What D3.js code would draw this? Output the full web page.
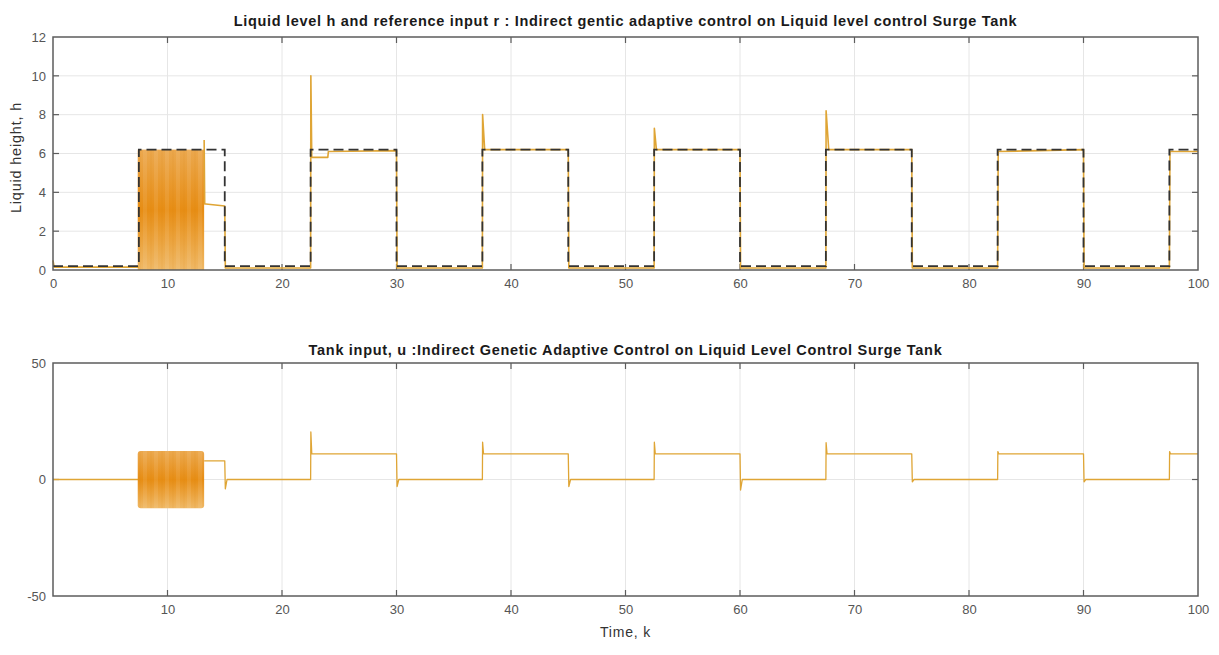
<!DOCTYPE html>
<html>
<head>
<meta charset="utf-8">
<script src="https://cdn.jsdelivr.net/npm/d3@7/dist/d3.min.js"></script>
<style>
  html, body { margin: 0; padding: 0; background: #fff; }
  svg { display: block; font-family: "Liberation Sans", Arial, Helvetica, sans-serif; }
</style>
</head>
<body>
<svg id="fig" width="1219" height="655"></svg>
<script>
// ---- Reference input r: square wave breakpoints (time, level) ----
const refTime  = [0, 7.5, 15, 22.5, 30, 37.5, 45, 52.5, 60, 67.5, 75, 82.5, 90, 97.5, 100];
const refLevel = [0.2, 6.2, 0.2, 6.2, 0.2, 6.2, 0.2, 6.2, 0.2, 6.2, 0.2, 6.2, 0.2, 6.2, 6.2];

// ---- Liquid level h (time, height) outside the oscillation window ----
const hTime  = [0, 0.1, 7.5, 7.5, 13.2, 13.25, 13.35, 15, 15.05, 22.5, 22.52, 22.6, 24, 24.05, 30, 30.05,
                37.5, 37.52, 37.7, 45, 45.05, 52.5, 52.52, 52.7, 60, 60.05, 67.5, 67.52, 67.75, 75, 75.05,
                82.5, 82.55, 90, 90.05, 97.5, 97.55, 100];
const hValue = [0.5, 0.15, 0.15, null, 6.7, 3.4, 3.4, 3.3, 0.1, 0.1, 10.0, 5.8, 5.8, 6.1, 6.15, 0.1,
                0.1, 8.0, 6.2, 6.2, 0.1, 0.1, 7.3, 6.2, 6.2, 0.1, 0.1, 8.2, 6.2, 6.2, 0.1,
                0.1, 6.1, 6.2, 0.1, 0.1, 6.1, 6.1];

// ---- Tank input u (time, input) outside the oscillation window ----
const uTime  = [0, 7.5, 7.5, 13.2, 15, 15.05, 15.2, 22.5, 22.52, 22.6, 30, 30.05, 30.2,
                37.5, 37.52, 37.6, 45, 45.05, 45.2, 52.5, 52.52, 52.6, 60, 60.05, 60.2,
                67.5, 67.52, 67.6, 75, 75.05, 75.2, 82.5, 82.52, 82.6, 90, 90.05, 90.2,
                97.5, 97.52, 97.6, 100];
const uValue = [0, 0, null, 8, 8, -4, 0, 0, 20.4, 11, 11, -3, 0,
                0, 16, 11, 11, -3, 0, 0, 16, 11, 11, -4.5, 0,
                0, 15.8, 11, 11, -1, 0, 0, 12, 11, 11, -1, 0,
                0, 12, 11, 11];

// ---- Oscillation window (start, end) and envelope of h and u inside it ----
const oscWindow = [7.4, 13.2];
const hEnvelope = [0, 6.2];
const uEnvelope = [-12.3, 12.2];

// ---- Axis ticks ----
const hTicksX = [0, 10, 20, 30, 40, 50, 60, 70, 80, 90, 100];
const hTicksY = [0, 2, 4, 6, 8, 10, 12];
const uTicksX = [10, 20, 30, 40, 50, 60, 70, 80, 90, 100];
const uTicksY = [-50, 0, 50];

const titleTop = "Liquid level h and reference input r : Indirect gentic adaptive control on Liquid level control Surge Tank";
const titleBottom = "Tank input, u :Indirect Genetic Adaptive Control on Liquid Level Control Surge Tank";

const svg = d3.select("#fig");
const lineColor = "#dfa535";
const boxColor = "#5c5c5c";

const defs = svg.append("defs");
function bandGradient(id) {
  const g = defs.append("linearGradient").attr("id", id)
    .attr("x1", 0).attr("y1", 0).attr("x2", 0).attr("y2", 1);
  g.append("stop").attr("offset", "0%").attr("stop-color", "#eba84e");
  g.append("stop").attr("offset", "50%").attr("stop-color", "#e78d14");
  g.append("stop").attr("offset", "100%").attr("stop-color", "#efb865");
  return `url(#${id})`;
}
// faint vertical streaks from the dense oscillation
function bandStreaks(id) {
  const p = defs.append("pattern").attr("id", id).attr("patternUnits", "userSpaceOnUse")
    .attr("width", 11).attr("height", 10);
  p.append("rect").attr("width", 4).attr("height", 10).attr("fill", "#fff").attr("opacity", 0.08);
  p.append("rect").attr("x", 7).attr("width", 2).attr("height", 10).attr("fill", "#c96f00").attr("opacity", 0.06);
  return `url(#${id})`;
}

function panel(opts) {
  const { left, right, top, bottom, yDomain, xTicks, yTicks, title, titleY } = opts;
  const x = d3.scaleLinear().domain([0, 100]).range([left, right]);
  const y = d3.scaleLinear().domain(yDomain).range([bottom, top]);
  const g = svg.append("g");

  // grid
  g.append("g").selectAll("line.gx").data(hTicksX.slice(1, -1)).join("line")
    .attr("x1", d => x(d)).attr("x2", d => x(d)).attr("y1", top).attr("y2", bottom)
    .attr("stroke", "#e6e6e6").attr("stroke-width", 1);
  g.append("g").selectAll("line.gy").data(yTicks.slice(1, -1)).join("line")
    .attr("x1", left).attr("x2", right).attr("y1", d => y(d)).attr("y2", d => y(d))
    .attr("stroke", "#e6e6e6").attr("stroke-width", 1);

  // axes with labels (ticks drawn inward)
  const ax = d3.axisBottom(x).tickValues(xTicks).tickSize(0).tickPadding(9).tickFormat(d => String(d));
  const ay = d3.axisLeft(y).tickValues(yTicks).tickSize(0).tickPadding(7).tickFormat(d => String(d));
  const gx = g.append("g").attr("transform", `translate(0,${bottom})`).call(ax);
  const gy = g.append("g").attr("transform", `translate(${left},0)`).call(ay);
  [gx, gy].forEach(a => {
    a.select(".domain").remove();
    a.selectAll("text").attr("fill", "#555").style("font-size", "13px");
  });

  // inward tick marks on all four sides
  const tl = 6;
  const tickG = g.append("g").attr("stroke", boxColor).attr("stroke-width", 1.2);
  tickG.selectAll("line.tb").data(hTicksX.slice(1, -1)).join("line")
    .attr("x1", d => x(d)).attr("x2", d => x(d)).attr("y1", bottom).attr("y2", bottom - tl);
  tickG.selectAll("line.tt").data(hTicksX.slice(1, -1)).join("line")
    .attr("x1", d => x(d)).attr("x2", d => x(d)).attr("y1", top).attr("y2", top + tl);
  tickG.selectAll("line.tl").data(yTicks.slice(1, -1)).join("line")
    .attr("x1", left).attr("x2", left + tl).attr("y1", d => y(d)).attr("y2", d => y(d));
  tickG.selectAll("line.tr").data(yTicks.slice(1, -1)).join("line")
    .attr("x1", right).attr("x2", right - tl).attr("y1", d => y(d)).attr("y2", d => y(d));

  // title
  g.append("text").attr("x", (left + right) / 2).attr("y", titleY)
    .attr("text-anchor", "middle").attr("font-weight", "bold")
    .style("font-size", "14.5px").style("letter-spacing", "0.7px")
    .attr("fill", "#1a1a1a").text(title);

  return { g, x, y, left, right, top, bottom };
}

// ---------- upper panel: liquid level ----------
const P1 = panel({
  left: 53, right: 1198, top: 37, bottom: 270, yDomain: [0, 12],
  xTicks: hTicksX, yTicks: hTicksY, title: titleTop, titleY: 26
});

const plot1 = P1.g.append("g");
const fill1 = bandGradient("g1");
plot1.append("rect")
  .attr("x", P1.x(oscWindow[0])).attr("width", P1.x(oscWindow[1]) - P1.x(oscWindow[0]))
  .attr("y", P1.y(hEnvelope[1])).attr("height", P1.y(hEnvelope[0]) - P1.y(hEnvelope[1]))
  .attr("fill", fill1);
plot1.append("rect")
  .attr("x", P1.x(oscWindow[0])).attr("width", P1.x(oscWindow[1]) - P1.x(oscWindow[0]))
  .attr("y", P1.y(hEnvelope[1])).attr("height", P1.y(hEnvelope[0]) - P1.y(hEnvelope[1]))
  .attr("fill", bandStreaks("s1"));

const hData = hTime.map((t, i) => [t, hValue[i]]);
const lineH = d3.line().defined(d => d[1] !== null).x(d => P1.x(d[0])).y(d => P1.y(d[1]));
plot1.append("path").datum(hData).attr("d", lineH)
  .attr("fill", "none").attr("stroke", lineColor).attr("stroke-width", 1.6).attr("stroke-linejoin", "round");

const refData = refTime.map((t, i) => [t, refLevel[i]]);
const lineR = d3.line().curve(d3.curveStepAfter).x(d => P1.x(d[0])).y(d => P1.y(d[1]));
plot1.append("path").datum(refData).attr("d", lineR)
  .attr("fill", "none").attr("stroke", "#333").attr("stroke-width", 1.8)
  .attr("stroke-dasharray", "10,5");

// ---------- lower panel: tank input ----------
const P2 = panel({
  left: 53, right: 1198, top: 363, bottom: 596, yDomain: [-50, 50],
  xTicks: uTicksX, yTicks: uTicksY, title: titleBottom, titleY: 355
});

const plot2 = P2.g.append("g");
const uData = uTime.map((t, i) => [t, uValue[i]]);
const lineU = d3.line().defined(d => d[1] !== null).x(d => P2.x(d[0])).y(d => P2.y(d[1]));
plot2.append("path").datum(uData).attr("d", lineU)
  .attr("fill", "none").attr("stroke", lineColor).attr("stroke-width", 1.3).attr("stroke-linejoin", "round");
plot2.append("rect")
  .attr("x", P2.x(oscWindow[0])).attr("width", P2.x(oscWindow[1]) - P2.x(oscWindow[0]))
  .attr("y", P2.y(uEnvelope[1])).attr("height", P2.y(uEnvelope[0]) - P2.y(uEnvelope[1]))
  .attr("rx", 3)
  .attr("fill", bandGradient("g2"));
plot2.append("rect")
  .attr("x", P2.x(oscWindow[0])).attr("width", P2.x(oscWindow[1]) - P2.x(oscWindow[0]))
  .attr("y", P2.y(uEnvelope[1])).attr("height", P2.y(uEnvelope[0]) - P2.y(uEnvelope[1]))
  .attr("fill", bandStreaks("s2"));

// axes boxes on top of data
[P1, P2].forEach(P => {
  P.g.append("rect").attr("x", P.left).attr("y", P.top)
    .attr("width", P.right - P.left).attr("height", P.bottom - P.top)
    .attr("fill", "none").attr("stroke", boxColor).attr("stroke-width", 1.5);
});

// axis labels
svg.append("text").attr("transform", `translate(21,${(P1.top + P1.bottom) / 2 + 4}) rotate(-90)`)
  .attr("text-anchor", "middle").style("font-size", "14.5px").style("letter-spacing", "0.8px")
  .attr("fill", "#333").text("Liquid height, h");
svg.append("text").attr("x", (P2.left + P2.right) / 2).attr("y", 637)
  .attr("text-anchor", "middle").style("font-size", "14px").style("letter-spacing", "0.8px")
  .attr("fill", "#333").text("Time, k");
</script>
</body>
</html>
